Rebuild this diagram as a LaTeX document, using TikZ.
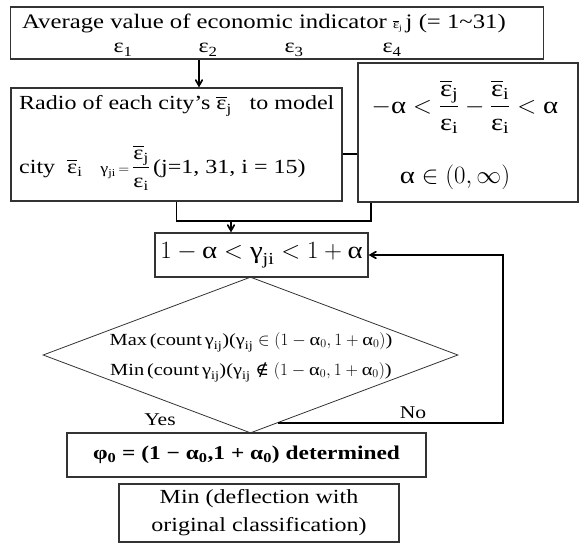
\documentclass[tikz,border=0pt]{standalone}
\usepackage{amsmath, amssymb}
\usepackage{fontspec}
\setmainfont[FakeStretch=1.2]{Liberation Serif}
\newfontfamily\symfont[FakeStretch=1.1]{DejaVu Serif}
\usetikzlibrary{shapes.geometric, arrows, positioning, calc}

\newcommand{\Alp}{\text{α}}
\newcommand{\Gam}{\text{γ}}
\newcommand{\Epb}[1]{\overline{\text{ε}}_{\text{#1}}}
\newcommand{\Epi}{\text{ε}_{\text{i}}}
\newcommand{\Notin}{\mathrel{\text{\symfont ∉}}}

\begin{document}
\begin{tikzpicture}[x=1pt, y=-1pt,
    box/.style={draw=black!80, line width=1.2pt, rectangle, inner sep=0pt},
    line/.style={line width=1.7pt},
    arr/.style={->, >=angle 60, line width=1.7pt},
    txt/.style={inner sep=0pt}]
    \useasboundingbox (0,0) rectangle (584,543);

    \node (avg) [box, minimum width=533.5pt, minimum height=52pt] at (277,33) {};
    \node (avgtxt) [txt, anchor=base west, font=\fontsize{20.6}{24}\selectfont] at (22,29) {Average value of economic indicator {\fontsize{12}{12}\selectfont$\Epb{j}$}\,j (= 1\textasciitilde31)};
    \foreach \k/\xx in {1/123, 2/208, 3/294, 4/392}
        \node (eps\k) [txt, anchor=base, font=\fontsize{20}{22}\selectfont] at (\xx,53) {ε\textsubscript{\k}};

    \node (ratio) [box, minimum width=331pt, minimum height=113pt] at (176.5,144.5) {};
    \node (ratiotxt) [txt, anchor=base west, font=\fontsize{20}{24}\selectfont] at (19,110) {Radio of each city’s $\Epb{j}$\ \ \ to model};
    \node (citytxt) [txt, anchor=west, font=\fontsize{20}{24}\selectfont] at (19,168) {city\hspace{12pt}$\Epb{i}$\hspace{18pt}{\fontsize{15}{18}\selectfont$\Gam_{\text{ji}}\,{=}$}\hspace{3pt}$\dfrac{\Epb{j}}{\Epi}$\,(j=1, 31, i = 15)};

    \node (cond) [box, minimum width=220pt, minimum height=139pt] at (468,132.5) {};
    \node (condtxt) [txt, font=\fontsize{24}{28}\selectfont] at (465,107) {$-\Alp < \dfrac{\Epb{j}}{\Epi} - \dfrac{\Epb{i}}{\Epi} < \Alp$};
    \node (rangetxt) [txt, anchor=base, font=\fontsize{24}{28}\selectfont] at (455,183) {$\Alp \in (0,\infty)$};

    \node (band) [box, minimum width=213pt, minimum height=44pt, font=\fontsize{24}{28}\selectfont] at (261.5,255) {$1-\Alp < \Gam_{\text{ji}} < 1+\Alp$};

    \node (test) [draw=black!80, line width=0.8pt, diamond, aspect=2.66, inner sep=0pt, minimum width=415pt, minimum height=156pt] at (250.5,355) {};
    \node (maxtxt) [txt, anchor=base, font=\fontsize{17}{20}\selectfont] at (251,345) {Max\,(count\,$\Gam_{\text{ij}}$)($\Gam_{\text{ij}} \in (1-\Alp_0, 1+\Alp_0)$)};
    \node (mintxt) [txt, anchor=base, font=\fontsize{17}{20}\selectfont] at (251,375) {Min\,(count\,$\Gam_{\text{ij}}$)($\Gam_{\text{ij}} \Notin (1-\Alp_0, 1+\Alp_0)$)};

    \node (phi) [box, minimum width=359pt, minimum height=44pt, font=\bfseries\fontsize{19.5}{22}\selectfont] at (246.5,455) {φ\textsubscript{0} = (1 − α\textsubscript{0},1 + α\textsubscript{0}) determined};
    \node (minb) [box, minimum width=280pt, minimum height=58pt, align=center, font=\fontsize{20}{28}\selectfont] at (259,513) {Min (deflection with\\original classification)};

    \node (yes) [txt, font=\fontsize{18}{20}\selectfont] at (160,420) {Yes};
    \node (no) [txt, font=\fontsize{18}{20}\selectfont] at (413,413) {No};

    \coordinate (ax) at (199,0);
    \coordinate (ly) at (0,154);
    \coordinate (merge) at (371,221);
    \coordinate (jn) at (231,221);
    \coordinate (fb) at (503,0);
    \coordinate (nostart) at ($(test.south)!0.13!(test.east)$);

    \draw [arr] (ax |- avg.south) -- (ax |- ratio.north);
    \draw [line width=1.2pt] (ratio.east |- ly) -- (cond.west |- ly);
    \draw [line] (ratio.south) |- (merge) -- (merge |- cond.south);
    \draw [arr] (jn) -- (jn |- band.north);
    \draw [arr] (nostart) -- (nostart -| fb) |- (band.east);
\end{tikzpicture}
\end{document}
